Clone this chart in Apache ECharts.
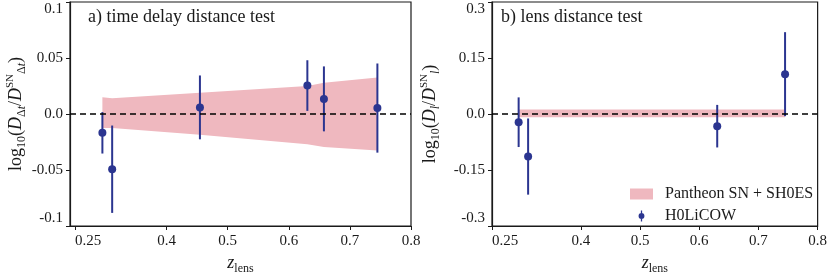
<!DOCTYPE html>
<html>
<head>
<meta charset="utf-8">
<script src="https://cdn.jsdelivr.net/npm/echarts@6/dist/echarts.min.js"></script>
<style>
html,body{margin:0;padding:0;background:#fff;}
#chart{width:830px;height:280px;}
</style>
</head>
<body>
<div id="chart"></div>
<script>
// ---- data ----
const leftZ   = [0.295, 0.311, 0.4546, 0.6304, 0.6575, 0.745];
const leftY   = [-0.0168, -0.0493, 0.0059, 0.0254, 0.0135, 0.0053];
const leftErr = [0.0185, 0.039, 0.0285, 0.0226, 0.029, 0.0398];
const leftBandZ  = [0.295, 0.311, 0.4546, 0.6304, 0.6575, 0.745];
const leftBandHi = [0.0150, 0.0140, 0.0190, 0.0250, 0.0280, 0.0325];
const leftBandLo = [-0.0125, -0.0125, -0.0185, -0.0270, -0.0295, -0.0325];

const rightZ   = [0.295, 0.311, 0.6304, 0.745];
const rightY   = [-0.022, -0.114, -0.0326, 0.1067];
const rightErr = [0.0665, 0.102, 0.057, 0.1125];
const rightBandZ  = [0.295, 0.311, 0.6304, 0.745];
const rightBandHi = [0.012, 0.012, 0.012, 0.012];
const rightBandLo = [-0.009, -0.009, -0.009, -0.009];

const xTicks = [0.25, 0.4, 0.5, 0.6, 0.7, 0.8];
const xTickLabels = ['0.25', '0.4', '0.5', '0.6', '0.7', '0.8'];
const leftYTicks = [-0.1, -0.05, 0, 0.05, 0.1];
const leftYTickLabels = ['-0.1', '-0.05', '0.0', '0.05', '0.1'];
const rightYTicks = [-0.3, -0.15, 0, 0.15, 0.3];
const rightYTickLabels = ['-0.3', '-0.15', '0.0', '0.15', '0.3'];

const titles = ['a) time delay distance test', 'b) lens distance test'];
const bandName = 'Pantheon SN + SH0ES';
const pointName = 'H0LiCOW';

// ---- style ----
const SERIF = '"Liberation Serif", "DejaVu Serif", serif';
const BAND = '#efb8bf';
const NAVY = '#2b3590';
const INK = '#1a1a1a';

function lookup(ticks, labels) {
  return function (v) {
    for (let i = 0; i < ticks.length; i++) {
      if (Math.abs(ticks[i] - v) < 1e-9) return labels[i];
    }
    return '';
  };
}

function bandRender(zs, hi, lo) {
  return function (params, api) {
    if (params.dataIndex !== 0) return;
    const pts = [];
    for (let i = 0; i < zs.length; i++) pts.push(api.coord([zs[i], hi[i]]));
    for (let i = zs.length - 1; i >= 0; i--) pts.push(api.coord([zs[i], lo[i]]));
    return { type: 'polygon', shape: { points: pts }, style: { fill: BAND } };
  };
}

function errRender(params, api) {
  const a = api.coord([api.value(0), api.value(1)]);
  const b = api.coord([api.value(0), api.value(2)]);
  return { type: 'line', shape: { x1: a[0], y1: a[1], x2: b[0], y2: b[1] },
           style: { stroke: NAVY, lineWidth: 2 } };
}

const richName = {
  n: { fontFamily: SERIF, fontSize: 18, color: INK, lineHeight: 23 },
  i: { fontFamily: SERIF, fontSize: 18, fontStyle: 'italic', color: INK, lineHeight: 23 },
  s: { fontFamily: SERIF, fontSize: 12, color: INK, lineHeight: 12, verticalAlign: 'bottom' },
  si: { fontFamily: SERIF, fontSize: 12, fontStyle: 'italic', color: INK, lineHeight: 12, verticalAlign: 'bottom' },
  p: { fontFamily: SERIF, fontSize: 11, color: INK, lineHeight: 11, verticalAlign: 'top' }
};

function xAxisCfg(gi, min, max) {
  return {
    type: 'value', gridIndex: gi, min: min, max: max,
    name: '{i|z}{s|lens}', nameLocation: 'middle', nameGap: 26,
    nameTextStyle: { rich: richName },
    axisLine: { show: true, onZero: false, lineStyle: { color: INK, width: 1.2 } },
    axisTick: { show: true, length: 4, lineStyle: { color: INK }, customValues: xTicks },
    axisLabel: { customValues: xTicks, formatter: lookup(xTicks, xTickLabels),
                 fontFamily: SERIF, fontSize: 15, color: INK, margin: 8, alignMinLabel: 'left' },
    splitLine: { show: false }
  };
}

function yAxisCfg(gi, min, max, interval, ticks, labels, name, gap) {
  return {
    type: 'value', gridIndex: gi, min: min, max: max, interval: interval,
    name: name, nameLocation: 'middle', nameGap: gap, nameRotate: 90,
    nameTextStyle: { rich: richName },
    axisLine: { show: true, lineStyle: { color: INK, width: 1.2 } },
    axisTick: { show: true, length: 4, lineStyle: { color: INK } },
    axisLabel: { formatter: lookup(ticks, labels), fontFamily: SERIF, fontSize: 15, color: INK, margin: 7,
                 verticalAlignMaxLabel: 'top', verticalAlignMinLabel: 'bottom' },
    splitLine: { show: false }
  };
}

const zeroLine = {
  silent: true, symbol: 'none', label: { show: false },
  lineStyle: { color: '#000', type: [6, 4], width: 1.6 },
  data: [{ yAxis: 0 }]
};

const option = {
  animation: false,
  backgroundColor: '#fff',
  title: [
    { text: titles[0], left: 88, top: 8, padding: 0,
      textStyle: { fontFamily: SERIF, fontSize: 18, fontWeight: 'normal', color: INK } },
    { text: titles[1], left: 501, top: 8, padding: 0,
      textStyle: { fontFamily: SERIF, fontSize: 18, fontWeight: 'normal', color: INK } }
  ],
  grid: [
    { left: 70, top: 2, width: 341, height: 227, show: true, borderColor: INK, borderWidth: 1.2, backgroundColor: 'transparent' },
    { left: 492, top: 2, width: 335, height: 227, show: true, borderColor: INK, borderWidth: 1.2, backgroundColor: 'transparent' }
  ],
  xAxis: [ xAxisCfg(0, 0.242, 0.8), xAxisCfg(1, 0.25, 0.8) ],
  yAxis: [
    yAxisCfg(0, -0.1, 0.1, 0.05, leftYTicks, leftYTickLabels,
      '{n|log}{s|10}{n|(}{i|D}{s|Δ}{si|t}{n|/}{i|D}{p|SN}{s|Δ}{si|t}{n|)}', 42),
    yAxisCfg(1, -0.3, 0.3, 0.15, rightYTicks, rightYTickLabels,
      '{n|log}{s|10}{n|(}{i|D}{si|l}{n|/}{i|D}{p|SN}{si|l}{n|)}', 50)
  ],
  legend: {
    left: 625, top: 181, orient: 'vertical', itemGap: 6,
    itemWidth: 23, itemHeight: 11,
    textStyle: { fontFamily: SERIF, fontSize: 16, color: INK, lineHeight: 14, padding: [0, 0, 0, 7] },
    data: [
      { name: bandName, icon: 'rect' },
      { name: pointName, icon: 'path://M3.3,0 L4.7,0 L4.7,12 L3.3,12 Z M0.8,6 A3.2,3.2 0 1,1 7.2,6 A3.2,3.2 0 1,1 0.8,6 Z' }
    ]
  },
  series: [
    { type: 'custom', name: bandName, xAxisIndex: 0, yAxisIndex: 0, z: 1,
      itemStyle: { color: BAND },
      renderItem: bandRender(leftBandZ, leftBandHi, leftBandLo),
      encode: { x: 0, y: [1, 2] },
      data: leftBandZ.map((z, i) => [z, leftBandLo[i], leftBandHi[i]]) },
    { type: 'custom', name: bandName, xAxisIndex: 1, yAxisIndex: 1, z: 1,
      itemStyle: { color: BAND },
      renderItem: bandRender(rightBandZ, rightBandHi, rightBandLo),
      encode: { x: 0, y: [1, 2] },
      data: rightBandZ.map((z, i) => [z, rightBandLo[i], rightBandHi[i]]) },
    { type: 'custom', name: 'err-a', xAxisIndex: 0, yAxisIndex: 0, z: 3,
      renderItem: errRender, encode: { x: 0, y: [1, 2] },
      data: leftZ.map((z, i) => [z, leftY[i] - leftErr[i], leftY[i] + leftErr[i]]) },
    { type: 'custom', name: 'err-b', xAxisIndex: 1, yAxisIndex: 1, z: 3,
      renderItem: errRender, encode: { x: 0, y: [1, 2] },
      data: rightZ.map((z, i) => [z, rightY[i] - rightErr[i], rightY[i] + rightErr[i]]) },
    { type: 'scatter', name: pointName, xAxisIndex: 0, yAxisIndex: 0, z: 4,
      symbolSize: 8, itemStyle: { color: NAVY, opacity: 1 },
      data: leftZ.map((z, i) => [z, leftY[i]]),
      markLine: zeroLine },
    { type: 'scatter', name: pointName, xAxisIndex: 1, yAxisIndex: 1, z: 4,
      symbolSize: 8, itemStyle: { color: NAVY, opacity: 1 },
      data: rightZ.map((z, i) => [z, rightY[i]]),
      markLine: zeroLine }
  ]
};

const chart = echarts.init(document.getElementById('chart'), null, { renderer: 'canvas' });
chart.setOption(option);
</script>
</body>
</html>
